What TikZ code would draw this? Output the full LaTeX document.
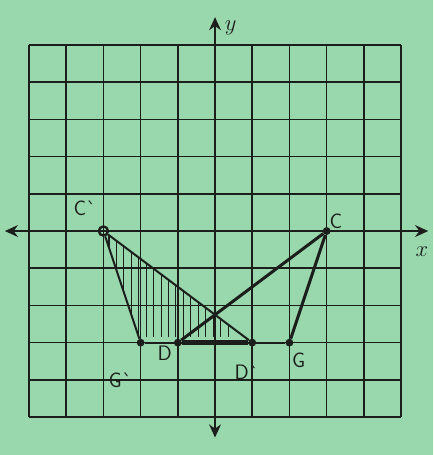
\documentclass[tikz,border=0pt]{standalone}
\usepackage{tikz}
\usepackage{xcolor}
\usetikzlibrary{arrows.meta, positioning}
\definecolor{paper-green}{RGB}{152,216,172}
\definecolor{ink}{RGB}{28,30,28}

\begin{document}
\begin{tikzpicture}[
  gridline/.style={ink, line width=1.3pt},
  axis/.style={ink, line width=2pt, {Stealth[length=10pt,width=9pt]}-{Stealth[length=10pt,width=9pt]}},
  preimage/.style={ink, line width=2.3pt},
  image/.style={ink, line width=1.5pt},
  bar/.style={ink, line width=4pt},
  pt/.style={circle, fill=ink, inner sep=0pt, minimum size=6pt},
  ring/.style={circle, draw=ink, line width=1.8pt, inner sep=0pt, minimum size=7pt},
  lbl/.style={ink, font=\fontsize{16}{18}\selectfont\sffamily},
  axlbl/.style={ink, font=\fontsize{16}{18}\selectfont},
  hatch/.style={ink, line width=0.8pt},
]
  % Paper
  \fill[paper-green] (-5.78,-6.02) rectangle (5.86,6.21);
  \useasboundingbox (-5.78,-6.02) rectangle (5.86,6.21);

  % Grid
  \draw[gridline] (-5,-5) grid (5,5);

  % Axes
  \coordinate (xl) at (-5.65,0);
  \coordinate (xr) at (5.73,0);
  \coordinate (yb) at (0,-5.55);
  \coordinate (yt) at (0,5.75);
  \draw[axis] (xl) -- (xr);
  \draw[axis] (yb) -- (yt);
  \node[axlbl] (xlab) at (5.56,-0.56) {$x$};
  \node[axlbl] (ylab) at (0.42,5.45) {$y$};

  % Points
  \node[ring] (Cp) at (-3,0) {};
  \node[pt] (C) at (3,0) {};
  \node[pt] (Gp) at (-2,-3) {};
  \node[pt] (D) at (-1,-3) {};
  \node[pt] (Dp) at (1,-3) {};
  \node[pt] (G) at (2,-3) {};

  % Shading of the image triangle
  \begin{scope}
    \clip (-3,0) -- (-2,-3) -- (1,-3) -- cycle;
    \foreach \x in {-2.85,-2.65,...,0.4}
      \draw[hatch] (\x,0.2) -- (\x,-2.85);
  \end{scope}

  % Image triangle
  \draw[image] (Cp) -- (Gp);
  \draw[image] (Cp) -- (Dp);

  % Original triangle
  \draw[preimage] (C) -- (D);
  \draw[preimage] (C) -- (G);
  \draw[image] (Gp) -- (G);
  \draw[bar] (D) -- (Dp);

  % Labels
  \node[lbl] (Cplab) at (-3.5,0.62) {C\textasciigrave};
  \node[lbl] (Clab) at (3.25,0.25) {C};
  \node[lbl] (Gplab) at (-2.55,-4.0) {G\textasciigrave};
  \node[lbl] (Dlab) at (-1.35,-3.28) {D};
  \node[lbl] (Dplab) at (0.85,-3.8) {D\textasciigrave};
  \node[lbl] (Glab) at (2.25,-3.48) {G};
\end{tikzpicture}
\end{document}
